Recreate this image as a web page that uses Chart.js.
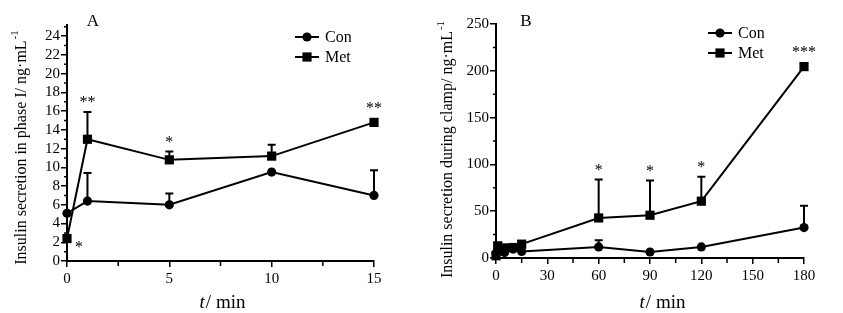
<!DOCTYPE html>
<html lang="en">
<head>
<meta charset="UTF-8">
<title>Insulin secretion</title>
<script src="https://cdn.jsdelivr.net/npm/chart.js"></script>
<style>
    body { margin: 0; background: #fff; }
    .panel { position: absolute; top: 0; height: 313px; }
</style>
</head>
<body>
<div class="panel" style="left:0;width:421px"><canvas id="chartA" width="421" height="313"></canvas></div>
<div class="panel" style="left:421px;width:422px"><canvas id="chartB" width="422" height="313"></canvas></div>
<script>
// panel A: phase I
const timesA = [0, 1, 5, 10, 15];
const conA = [5.1, 6.4, 6.0, 9.5, 7.0];
const conAErr = [0, 3.0, 1.2, 0, 2.7];
const metA = [2.4, 13.0, 10.8, 11.2, 14.8];
const metAErr = [0, 2.9, 0.9, 1.2, 0];
const sigA = ['*', '**', '*', '', '**'];

// panel B: whole clamp
const timesB = [0, 1, 5, 10, 15, 60, 90, 120, 180];
const conB = [5.1, 6.4, 6.0, 9.5, 7.0, 11.8, 6.4, 11.8, 32.5];
const conBErr = [0, 0, 0, 0, 0, 7.2, 0, 0, 23.2];
const metB = [2.4, 13.0, 10.8, 11.2, 14.8, 42.8, 45.7, 60.7, 204.5];
const metBErr = [0, 0, 0, 0, 0, 41, 37, 26, 0];
const sigB = ['', '', '', '', '', '*', '*', '*', '***'];

const FONT = '"Liberation Serif", "Times New Roman", serif';

function pts(xs, ys) {
    return xs.map((t, i) => ({ x: t, y: ys[i] }));
}

function marker(ctx, style, x, y) {
    ctx.beginPath();
    if (style === 'rect') ctx.rect(x - 4.6, y - 4.6, 9.2, 9.2);
    else ctx.arc(x, y, 4.6, 0, Math.PI * 2);
    ctx.fill();
}

const decor = {
    id: 'decor',
    beforeDatasetsDraw(chart, args, o) {
        const { ctx, chartArea: ca, scales: { x, y } } = chart;
        ctx.save();
        ctx.strokeStyle = '#000';
        ctx.lineWidth = 2;
        // error bars (upper only)
        chart.data.datasets.forEach(ds => {
            ds.data.forEach((p, i) => {
                const e = ds.errs[i];
                if (!e) return;
                const px = x.getPixelForValue(p.x);
                const y0 = y.getPixelForValue(p.y);
                const y1 = y.getPixelForValue(p.y + e);
                ctx.beginPath();
                ctx.moveTo(px, y0); ctx.lineTo(px, y1);
                ctx.moveTo(px - 4, y1); ctx.lineTo(px + 4, y1);
                ctx.stroke();
            });
        });
        // minor ticks
        ctx.lineWidth = 1.5;
        ctx.beginPath();
        o.xMinor.forEach(v => {
            const px = x.getPixelForValue(v);
            ctx.moveTo(px, ca.bottom); ctx.lineTo(px, ca.bottom + 5);
        });
        o.yMinor.forEach(v => {
            const py = y.getPixelForValue(v);
            ctx.moveTo(ca.left, py); ctx.lineTo(ca.left - 3, py);
        });
        ctx.stroke();
        ctx.restore();
    },
    afterDraw(chart, args, o) {
        const { ctx, chartArea: ca, scales: { x, y } } = chart;
        ctx.save();
        ctx.fillStyle = '#000';
        ctx.strokeStyle = '#000';

        // panel letter
        ctx.font = '17px ' + FONT;
        ctx.textAlign = 'center';
        ctx.textBaseline = 'middle';
        ctx.fillText(o.letter, o.letterX, 22);

        // legend
        ctx.font = '16px ' + FONT;
        ctx.textAlign = 'left';
        chart.data.datasets.forEach((ds, i) => {
            const ly = o.legendY + i * 20;
            ctx.lineWidth = 2;
            ctx.beginPath();
            ctx.moveTo(o.legendX, ly); ctx.lineTo(o.legendX + 24, ly);
            ctx.stroke();
            marker(ctx, ds.pointStyle, o.legendX + 12, ly);
            ctx.fillText(ds.label, o.legendX + 30, ly + 1);
        });

        // significance stars above Met
        const met = chart.data.datasets[1];
        ctx.font = '16px ' + FONT;
        ctx.textAlign = 'center';
        ctx.textBaseline = 'top';
        o.sig.forEach((s, i) => {
            if (!s) return;
            const p = met.data[i];
            const px = x.getPixelForValue(p.x);
            const py = y.getPixelForValue(p.y);
            if (i === 0) {
                ctx.fillText(s, px + 12, py + 1);
                return;
            }
            const top = Math.min(y.getPixelForValue(p.y + met.errs[i]), py - 5);
            ctx.fillText(s, px, top - 17);
        });

        // x title with italic t
        ctx.textBaseline = 'alphabetic';
        ctx.textAlign = 'left';
        ctx.font = 'italic 19px ' + FONT;
        const wt = ctx.measureText('t').width;
        ctx.font = '19px ' + FONT;
        const wr = ctx.measureText('/ min').width;
        const sx = o.xTitleX - (wt + wr) / 2;
        ctx.font = 'italic 19px ' + FONT;
        ctx.fillText('t', sx, 308);
        ctx.font = '19px ' + FONT;
        ctx.fillText('/ min', sx + wt + 1, 308);

        // y title with superscript
        ctx.translate(o.yTitleX, o.yTitleY);
        ctx.rotate(-Math.PI / 2);
        ctx.font = '16px ' + FONT;
        const wm = ctx.measureText(o.yTitle).width;
        ctx.font = '11px ' + FONT;
        const ws = ctx.measureText('-1').width;
        const start = -(wm + ws) / 2;
        ctx.textBaseline = 'middle';
        ctx.font = '16px ' + FONT;
        ctx.fillText(o.yTitle, start, 0);
        ctx.font = '11px ' + FONT;
        ctx.fillText('-1', start + wm + 1, -7);
        ctx.restore();
    }
};

function makeChart(id, xs, con, conErr, met, metErr, cfg) {
    const ctx = document.getElementById(id).getContext('2d');
    const common = {
        borderColor: '#000', backgroundColor: '#000',
        pointBackgroundColor: '#000', pointBorderColor: '#000',
        borderWidth: 2, pointBorderWidth: 0, clip: false, tension: 0
    };
    return new Chart(ctx, {
        type: 'line',
        data: {
            datasets: [
                Object.assign({ label: 'Con', data: pts(xs, con), errs: conErr,
                    pointStyle: 'circle', pointRadius: 4.6 }, common),
                Object.assign({ label: 'Met', data: pts(xs, met), errs: metErr,
                    pointStyle: 'rect', pointRadius: 6.5 }, common)
            ]
        },
        options: {
            responsive: false,
            animation: false,
            layout: { padding: { top: cfg.top, right: cfg.right, left: 0, bottom: 0 } },
            plugins: {
                legend: { display: false },
                tooltip: { enabled: false },
                decor: cfg.decor
            },
            scales: {
                x: {
                    type: 'linear',
                    min: 0, max: cfg.xMax,
                    afterFit: s => { s.height = cfg.xHeight; },
                    border: { display: true, color: '#000', width: 2 },
                    grid: { drawOnChartArea: false, color: '#000', lineWidth: 1.5, tickLength: 6 },
                    ticks: { stepSize: cfg.xStep, color: '#000', padding: 3, autoSkip: false,
                        font: { family: FONT, size: 15 }, maxRotation: 0, includeBounds: false },
                    title: { display: false }
                },
                y: {
                    min: 0, max: cfg.yMax,
                    afterFit: s => { s.width = cfg.yWidth; },
                    border: { display: true, color: '#000', width: 2 },
                    grid: { drawOnChartArea: false, color: '#000', lineWidth: 1.5, tickLength: 6 },
                    ticks: { stepSize: cfg.yStep, color: '#000', padding: 1, autoSkip: false,
                        font: { family: FONT, size: 15 }, includeBounds: false },
                    title: { display: false }
                }
            }
        },
        plugins: [decor]
    });
}

makeChart('chartA', timesA, conA, conAErr, metA, metAErr, {
    top: 25, right: 47, xHeight: 52, yWidth: 67,
    xMax: 15, xStep: 5, yMax: 25.2, yStep: 2,
    decor: {
        letter: 'A', letterX: 93,
        legendX: 295, legendY: 37,
        sig: sigA,
        xMinor: [2.5, 7.5, 12.5],
        yMinor: [1, 3, 5, 7, 9, 11, 13, 15, 17, 19, 21, 23, 25],
        xTitleX: 222,
        yTitle: 'Insulin secretion in phase I/ ng\u00b7mL', yTitleX: 22, yTitleY: 148
    }
});

makeChart('chartB', timesB, conB, conBErr, metB, metBErr, {
    top: 24, right: 39, xHeight: 55, yWidth: 75,
    xMax: 180, xStep: 30, yMax: 250, yStep: 50,
    decor: {
        letter: 'B', letterX: 105,
        legendX: 287, legendY: 33,
        sig: sigB,
        xMinor: [15, 45, 75, 105, 135, 165],
        yMinor: [25, 75, 125, 175, 225],
        xTitleX: 241,
        yTitle: 'Insulin secretion during clamp/ ng\u00b7mL', yTitleX: 27, yTitleY: 150
    }
});
</script>
</body>
</html>
